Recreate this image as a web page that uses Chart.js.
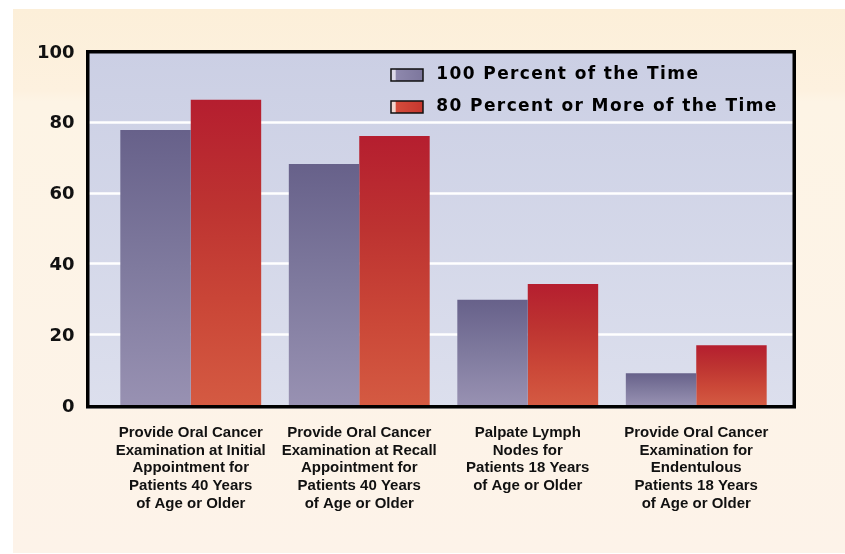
<!DOCTYPE html>
<html>
<head>
<meta charset="utf-8">
<script src="https://cdn.jsdelivr.net/npm/chart.js@4.4.1/dist/chart.umd.min.js"></script>
<style>
  html, body { margin: 0; padding: 0; background: #fff; }
  #wrap { width: 845px; height: 554px; position: relative; }
</style>
</head>
<body>
<div id="wrap"><canvas id="myChart"></canvas></div>
<script>
// categories (multi-line tick labels)
const categories = [
  ['Provide Oral Cancer', 'Examination at Initial', 'Appointment for', 'Patients 40 Years', 'of Age or Older'],
  ['Provide Oral Cancer', 'Examination at Recall', 'Appointment for', 'Patients 40 Years', 'of Age or Older'],
  ['Palpate Lymph', 'Nodes for', 'Patients 18 Years', 'of Age or Older'],
  ['Provide Oral Cancer', 'Examination for', 'Endentulous', 'Patients 18 Years', 'of Age or Older']
]
const seriesNames = ['100 Percent of the Time', '80 Percent or More of the Time']
const always = [77.7, 68.1, 29.7, 9.0]
const mostly = [86.2, 76.0, 34.2, 16.9]
const yTicks = [0, 20, 40, 60, 80, 100]

const purpleStops = [[0, '#67618a'], [0.5, '#7f7a9e'], [1, '#9891b2']]
const redStops = [[0, '#b51e2f'], [0.35, '#bd3331'], [0.7, '#cb4838'], [1, '#d45a42']]
const legendStops = [
    [[0, '#dcd9e8'], [0.1, '#dcd9e8'], [0.13, '#8e88ad'], [1, '#7c769c']],
    [[0, '#f2d6cf'], [0.1, '#f2d6cf'], [0.13, '#d44c3b'], [1, '#c5362e']]
]

function barFill(stops){
    return ctx => {
        const chart = ctx.chart
        const y = chart.scales && chart.scales.y
        if (!y || ctx.type !== 'data') return stops[1][1]
        const v = ctx.parsed ? ctx.parsed.y : ctx.raw
        const top = y.getPixelForValue(v)
        const bottom = y.getPixelForValue(0)
        if (!isFinite(top) || !isFinite(bottom) || top === bottom) return stops[1][1]
        const g = chart.ctx.createLinearGradient(0, top, 0, bottom)
        stops.forEach(s => g.addColorStop(s[0], s[1]))
        return g
    }
}

function legendFill(chart, stops){
    const g = chart.ctx.createLinearGradient(392, 0, 424, 0)
    stops.forEach(s => g.addColorStop(s[0], s[1]))
    return g
}

// background, plot panel, grid lines, frame
const frame = {
    id: 'frame',
    afterLayout(chart){
        const lg = chart.legend
        if (!lg) return
        lg.left = 376; lg.right = chart.width
        lg.top = 51.5; lg.bottom = chart.chartArea.bottom
        if (!lg._spaced){
            const d = lg.draw.bind(lg)
            lg.draw = function(area){
                const c = this.ctx
                c.save()
                c.letterSpacing = '1.4px'
                d(area)
                c.restore()
            }
            lg._spaced = true
        }
    },
    beforeDraw(chart){
        const c = chart.ctx
        const ca = chart.chartArea
        c.save()
        // cream page
        const bg = c.createLinearGradient(0, 9, 0, 553)
        bg.addColorStop(0, '#fcefd9')
        bg.addColorStop(0.15, '#fdf1df')
        bg.addColorStop(0.17, '#fdf4e5')
        bg.addColorStop(1, '#fdf3e9')
        c.fillStyle = bg
        c.fillRect(13, 9, chart.width - 13, 544)
        // plot panel
        const L = ca.left - 20.5, R = ca.right + 15.5, T = ca.top - 1, B = ca.bottom + 3.5
        const pg = c.createLinearGradient(0, T, 0, B)
        pg.addColorStop(0, '#cbcfe4')
        pg.addColorStop(1, '#dcdfed')
        c.fillStyle = pg
        c.fillRect(L, T, R - L, B - T)
        // grid lines
        const y = chart.scales.y
        c.strokeStyle = '#ffffff'
        c.lineWidth = 2.5
        yTicks.slice(1, -1).forEach(v => {
            const py = Math.round(y.getPixelForValue(v)) + 0.5
            c.beginPath()
            c.moveTo(L, py)
            c.lineTo(R, py)
            c.stroke()
        })
        c.restore()
    },
    afterDatasetsDraw(chart){
        const c = chart.ctx
        const ca = chart.chartArea
        const L = ca.left - 20.5, R = ca.right + 15.5, T = ca.top - 1, B = ca.bottom + 3.5
        const lw = 3.5
        c.save()
        c.strokeStyle = '#000'
        c.lineWidth = lw
        c.strokeRect(L + lw / 2, T + lw / 2, R - L - lw, B - T - lw)
        c.restore()
    }
}

new Chart(document.getElementById('myChart'), {
    type: 'bar',
    data: {
        labels: categories,
        datasets: [
            { label: seriesNames[0], data: always, backgroundColor: barFill(purpleStops), borderWidth: 0 },
            { label: seriesNames[1], data: mostly, backgroundColor: barFill(redStops), borderWidth: 0 }
        ]
    },
    plugins: [frame],
    options: {
        responsive: true,
        maintainAspectRatio: false,
        animation: false,
        layout: { padding: { left: 36.5, right: 64.5, top: 51, bottom: 0 } },
        datasets: { bar: { categoryPercentage: 0.836, barPercentage: 1 } },
        plugins: {
            tooltip: { enabled: false },
            legend: {
                position: 'chartArea',
                align: 'start',
                labels: {
                    boxWidth: 32,
                    boxHeight: 12,
                    padding: 15,
                    color: '#111',
                    font: { family: 'DejaVu Sans', weight: 'bold', size: 17 },
                    generateLabels: chart => chart.data.datasets.map((ds, i) => ({
                        text: '\u2009' + ds.label,
                        fillStyle: legendFill(chart, legendStops[i]),
                        strokeStyle: '#111',
                        lineWidth: 1.5,
                        hidden: false,
                        datasetIndex: i
                    }))
                }
            }
        },
        scales: {
            x: {
                grid: { display: false, drawTicks: false },
                border: { display: false },
                ticks: {
                    padding: 19,
                    maxRotation: 0,
                    autoSkip: false,
                    color: '#111',
                    font: { family: 'Liberation Sans', weight: 'bold', size: 15, lineHeight: 1.18 }
                },
                afterFit: s => { s.height = 149 }
            },
            y: {
                min: 0,
                max: 100,
                grid: { display: false, drawTicks: false },
                border: { display: false },
                afterBuildTicks: s => { s.ticks = yTicks.map(v => ({ value: v })) },
                ticks: {
                    padding: 32,
                    labelOffset: 2,
                    color: '#111',
                    font: { family: 'DejaVu Sans', weight: 'bold', size: 18 }
                },
                afterFit: s => { s.width = 70 }
            }
        }
    }
})
</script>
</body>
</html>
